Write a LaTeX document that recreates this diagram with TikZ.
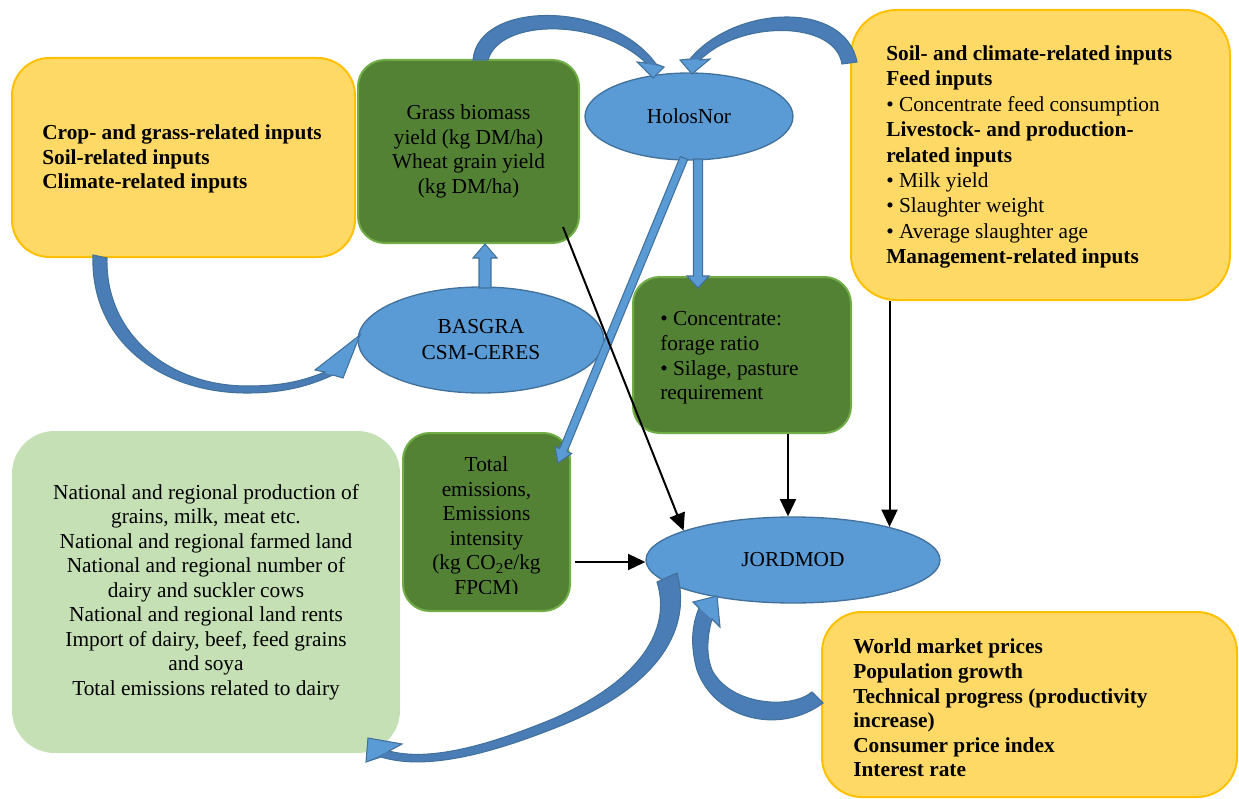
\documentclass[tikz,border=0pt]{standalone}
\usepackage{fontspec}
\setmainfont{Liberation Serif}
\usetikzlibrary{arrows.meta,calc,shapes.geometric}
\definecolor{yfill}{HTML}{FFD966}
\definecolor{yline}{HTML}{FFC000}
\definecolor{gdark}{HTML}{548235}
\definecolor{gline}{HTML}{70AD47}
\definecolor{glight}{HTML}{C5E0B4}
\definecolor{bfill}{HTML}{5B9BD5}
\definecolor{bline}{HTML}{41719C}
\definecolor{bdark}{HTML}{4A7DB5}
\tikzset{
 txt/.style={font=\fontsize{16}{18.4}\selectfont, text=black},
 ybox/.style={rectangle, draw=yline, fill=yfill, line width=1.5pt, rounded corners=28pt, inner sep=0pt},
 gbox/.style={rectangle, draw=gline, fill=gdark, line width=1.5pt, rounded corners=20pt, inner sep=0pt, txt, align=center},
 lbox/.style={rectangle, fill=glight, rounded corners=32pt, inner sep=0pt, txt, align=center},
 oval/.style={ellipse, draw=bline, fill=bfill, line width=1pt, inner sep=0pt, txt, align=center},
 ltext/.style={txt, inner sep=0pt, anchor=west, align=left},
 conn/.style={line width=1.5pt, -{Triangle[length=13pt,width=12pt]}},
 blockarrow/.style={fill=bfill, draw=bline, line width=0.8pt},
 shaftfill/.style={fill=bdark},
 headfill/.style={fill=bfill},
 arrowline/.style={draw=bline, line width=0.8pt},
}
\newcommand\blockarr[5]{%
  \coordinate (bahead) at ($(#2)!#5!(#1)$);
  \filldraw[blockarrow] ($(#1)!#3!90:(#2)$) -- ($(bahead)!#3!90:(#2)$) -- ($(bahead)!#4!90:(#2)$) -- (#2) -- ($(bahead)!#4!-90:(#2)$) -- ($(bahead)!#3!-90:(#2)$) -- ($(#1)!#3!-90:(#2)$) -- cycle;}
\begin{document}
\begin{tikzpicture}[x=0.75pt,y=-0.75pt]
\useasboundingbox (0,0) rectangle (1239,799);

% boxes
\node[ybox, minimum width=257.25pt, minimum height=149.25pt] (inA) at (183.5,157.5) {};
\node[gbox, minimum width=165.75pt, minimum height=137.25pt] (grass) at (468.5,151.5)
  {Grass biomass\\yield (kg DM/ha)\\Wheat grain yield\\(kg DM/ha)};
\node[gbox, minimum width=163.5pt, minimum height=117pt] (conc) at (742,355) {};
\node[ybox, minimum width=284.25pt, minimum height=217.5pt, rounded corners=34pt] (inB) at (1040.5,155) {};
\node[lbox, minimum width=291pt, minimum height=241.5pt] (out) at (206,592)
  {National and regional production of\\grains, milk, meat etc.\\National and regional farmed land\\National and regional number of\\dairy and suckler cows\\National and regional land rents\\Import of dairy, beef, feed grains\\and soya\\Total emissions related to dairy};
\node[gbox, minimum width=125.25pt, minimum height=133.5pt] (emis) at (486.5,522) {};
\node[ybox, minimum width=311.25pt, minimum height=138.75pt, rounded corners=30pt] (inC) at (1029.5,704.5) {};

% ellipses
\node[oval, minimum width=156pt, minimum height=65.25pt] (holos) at (689,116.5) {HolosNor};
\node[oval, minimum width=184.5pt, minimum height=79.5pt, font=\fontsize{16}{19.5}\selectfont] (basgra) at (481,340) {BASGRA\\CSM-CERES};
\node[oval, minimum width=220.5pt, minimum height=64.5pt] (jord) at (793,560) {JORDMOD};

% texts
\node[ltext] (inAt) at (42,159) {\bfseries Crop- and grass-related inputs\\\bfseries Soil-related inputs\\\bfseries Climate-related inputs};
\node[ltext] (conct) at (660,358) {• Concentrate:\\forage ratio\\• Silage, pasture\\requirement};
\node[ltext, font=\fontsize{16}{19.1}\selectfont] (inBt) at (886,157) {\textbf{Soil- and climate-related inputs}\\\textbf{Feed inputs}\\• Concentrate feed consumption\\\textbf{Livestock- and production-}\\\textbf{related inputs}\\• Milk yield\\• Slaughter weight\\• Average slaughter age\\\textbf{Management-related inputs}};
\node[ltext] (inCt) at (853,708) {\bfseries World market prices\\\bfseries Population growth\\\bfseries Technical progress (productivity\\\bfseries increase)\\\bfseries Consumer price index\\\bfseries Interest rate};
\begin{scope}
\clip (403,433) rectangle (570,593);
\node[txt, align=center, inner sep=0pt] (emist) at (486.5,528) {Total\\emissions,\\Emissions\\intensity\\(kg CO\textsubscript{2}e/kg\\FPCM)};
\end{scope}

% straight block arrows
\coordinate (aS) at (485,288); \coordinate (aE) at (485,244);
\blockarr{aS}{aE}{4.5pt}{9pt}{10.5pt}
\coordinate (bS) at (698,159); \coordinate (bE) at (698,288);
\blockarr{bS}{bE}{3.4pt}{8.25pt}{9pt}
\coordinate (cS) at (684,158); \coordinate (cE) at (558,463);
\blockarr{cS}{cE}{3pt}{6.75pt}{10.5pt}

% curved block arrows
% grass -> HolosNor
\fill[shaftfill] (473,60) .. controls (478,0) and (610,0) .. (656,64) -- (664,67) -- (653,78) -- (637,62) -- (646,63) .. controls (600,18) and (500,18) .. (488,60) -- cycle;
\fill[headfill] (664,67) -- (653,78) -- (637,62) -- cycle;
\draw[arrowline] (473,60) .. controls (478,0) and (610,0) .. (656,64) -- (664,67) -- (653,78) -- (637,62) -- (646,63) .. controls (600,18) and (500,18) .. (488,60) -- cycle;
% inputs B -> HolosNor
\fill[shaftfill] (857,62) .. controls (845,0) and (735,5) .. (690,59) -- (680,60) -- (692,74) -- (710,59) -- (700,60) .. controls (740,20) and (835,20) .. (842,64) -- cycle;
\fill[headfill] (680,60) -- (692,74) -- (710,59) -- cycle;
\draw[arrowline] (857,62) .. controls (845,0) and (735,5) .. (690,59) -- (680,60) -- (692,74) -- (710,59) -- (700,60) .. controls (740,20) and (835,20) .. (842,64) -- cycle;
% inputs A -> BASGRA
\fill[shaftfill] (93,255) .. controls (90,340) and (160,393) .. (247,393) .. controls (290,393) and (315,383) .. (333,375) -- (343,378) -- (360,335) -- (315,370) -- (325,372) .. controls (300,382) and (280,386) .. (247,386) .. controls (170,386) and (105,335) .. (107,258) -- cycle;
\fill[headfill] (343,378) -- (360,335) -- (315,370) -- cycle;
\draw[arrowline] (93,255) .. controls (90,340) and (160,393) .. (247,393) .. controls (290,393) and (315,383) .. (333,375) -- (343,378) -- (360,335) -- (315,370) -- (325,372) .. controls (300,382) and (280,386) .. (247,386) .. controls (170,386) and (105,335) .. (107,258) -- cycle;
% JORDMOD -> outputs
\fill[shaftfill] (677,573) .. controls (694,635) and (650,690) .. (560,726) .. controls (500,750) and (430,772) .. (381,757) -- (366,762) -- (368,738) -- (402,744) -- (389,751) .. controls (430,762) and (490,745) .. (555,718) .. controls (640,680) and (672,630) .. (657,582) -- cycle;
\fill[headfill] (366,762) -- (368,738) -- (402,744) -- cycle;
\draw[arrowline] (677,573) .. controls (694,635) and (650,690) .. (560,726) .. controls (500,750) and (430,772) .. (381,757) -- (366,762) -- (368,738) -- (402,744) -- (389,751) .. controls (430,762) and (490,745) .. (555,718) .. controls (640,680) and (672,630) .. (657,582) -- cycle;
% inputs C -> JORDMOD
\fill[shaftfill] (823,703) .. controls (780,735) and (715,720) .. (697,670) .. controls (690,645) and (692,625) .. (699,608) -- (693,602) -- (717,596) -- (720,627) -- (712,619) .. controls (706,640) and (707,658) .. (712,670) .. controls (730,705) and (790,710) .. (812,692) -- cycle;
\fill[headfill] (693,602) -- (717,596) -- (720,627) -- cycle;
\draw[arrowline] (823,703) .. controls (780,735) and (715,720) .. (697,670) .. controls (690,645) and (692,625) .. (699,608) -- (693,602) -- (717,596) -- (720,627) -- (712,619) .. controls (706,640) and (707,658) .. (712,670) .. controls (730,705) and (790,710) .. (812,692) -- cycle;

% black connectors
\coordinate (k1) at (563,227);
\coordinate (k2) at ($(conc.south)+(46,0)$);
\coordinate (k3) at ($(inB.south)+(-151,0)$);
\coordinate (k4) at (575,562);
\draw[conn] (k1) -- (jord.165);
\draw[conn] (k2) -- (k2 |- jord.north);
\draw[conn] (k3) -- (k3 |- jord.19);
\draw[conn] (k4) -- (k4 -| jord.west);
\end{tikzpicture}
\end{document}
